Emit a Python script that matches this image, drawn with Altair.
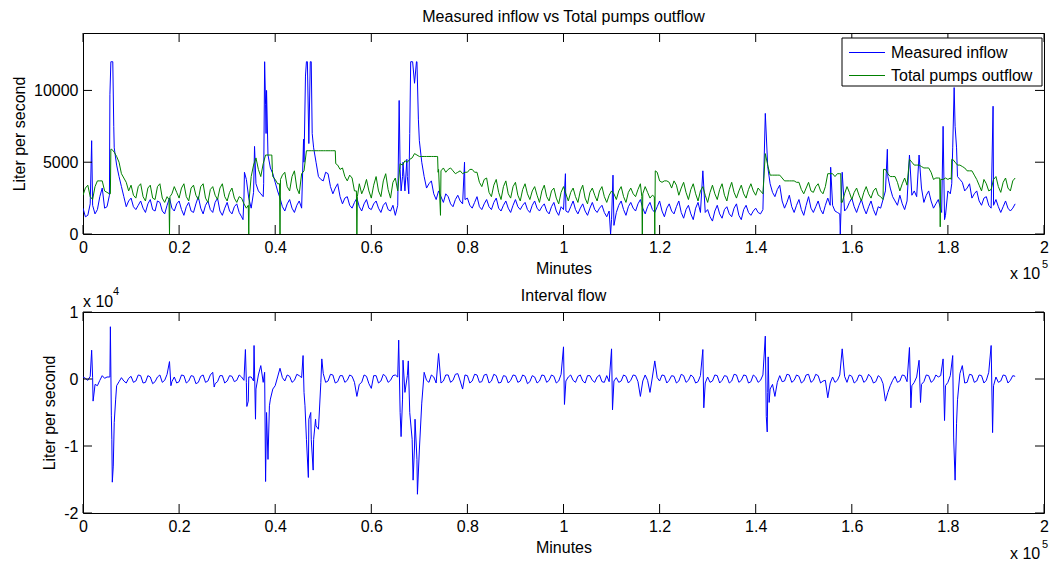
import altair as alt
import pandas as pd

FONT = "Liberation Sans"
STEP = 1000  # sampling step of the base series, minutes (mid samples sit half a step later)

# ---------------- data ----------------
inflow = [
    1800, 1300, 2000, 1700, 3200, 1900, 12000, 4800, 3300, 1900,
    2500, 1700, 2300, 1500, 2400, 1600, 2200, 1400, 2500, 1600,
    2300, 1300, 2200, 1500, 2600, 1400, 2300, 1500, 2500, 1300,
    2200, 1400, 2100, 1200, 3800, 1800, 3500, 2800, 9000, 4600,
    3600, 2500, 1600, 2400, 1500, 2300, 5000, 6300, 6000, 4000,
    3700, 4200, 2800, 3500, 2100, 2600, 1800, 2500, 1600, 2400,
    1700, 2300, 1500, 2200, 1600, 1300, 4500, 3000, 7000, 10500,
    6500, 4000, 3500, 2800, 3000, 2200, 2600, 1900, 2700, 2100,
    2500, 1800, 2600, 1700, 2400, 1700, 2500, 1600, 2300, 1500,
    2400, 1700, 2200, 1500, 2300, 1600, 2100, 1400, 2200, 1300,
    1700, 1500, 2300, 1400, 2100, 1300, 2200, 1500, 2000, 1200,
    1000, 1500, 2300, 1300, 2200, 1600, 2400, 1400, 2200, 1500,
    2300, 1200, 2100, 1400, 2300, 1100, 2000, 1000, 2200, 4400,
    1700, 900, 2000, 1100, 1900, 1200, 2100, 1000, 2000, 1300,
    1800, 1400, 8400, 3500, 2600, 3400, 1800, 2700, 1500, 2400,
    1300, 2600, 1500, 2300, 1400, 2500, 2000, 1500, 4300, 1800,
    2500, 1500, 2400, 1400, 2300, 1300, 1800, 3000, 3200, 2300,
    2700, 1700, 5500, 3000, 5500, 2200, 3000, 1800, 2400, 7500,
    3000, 6000, 4000, 3600, 3200, 2500, 3000, 2000, 2600, 1800,
    2400, 1500, 2300, 1600, 2100,
]
inflow_mid = [
    1200, 2100, 1400, 2600, 1800, 2700, 6000, 4000, 2600, 2300,
    1900, 2000, 1800, 2100, 1700, 2300, 1600, 2000, 1800, 2100,
    1700, 1900, 1600, 2100, 1800, 2000, 1700, 2200, 1600, 1800,
    1600, 1900, 1500, 2500, 2500, 2900, 3000, 2600, 5500, 4200,
    3000, 1900, 2100, 1800, 2000, 1800, 12000, 12000, 5000, 3800,
    4300, 3300, 3200, 2600, 2500, 2000, 2200, 1900, 2100, 1800,
    2100, 1800, 2000, 1700, 2000, 2000, 4000, 4000, 12000, 12000,
    5000, 3200, 3700, 2400, 2600, 2800, 2100, 2400, 2300, 2400,
    2000, 2200, 1900, 2100, 1900, 2200, 1800, 2000, 1800, 2000,
    1900, 2000, 1700, 2000, 1800, 1900, 1600, 1900, 1600, 1900,
    1600, 1900, 1700, 1800, 1600, 1800, 1700, 1800, 1500, 1600,
    600, 2000, 1700, 1900, 1800, 2100, 1800, 1900, 1700, 1900,
    1600, 1800, 1600, 1900, 1500, 1700, 1400, 1800, 1500, 1500,
    1200, 1600, 1400, 1700, 1400, 1800, 1300, 1700, 1500, 1600,
    1500, 1700, 4700, 2900, 3100, 2300, 2200, 1900, 2000, 1700,
    2000, 1800, 1900, 1700, 2000, 2000, 1600, 1400, 1600, 2200,
    1900, 2000, 1800, 1900, 1700, 1900, 2400, 4000, 2600, 2000,
    2100, 2300, 2700, 2600, 3200, 2700, 2300, 2100, 1700, 1300,
    2800, 7500, 3800, 3000, 3500, 2800, 2300, 2500, 2000, 2000,
    1900, 1900, 1800, 1800,
]
inflow_peak_minutes = [
    1800, 5600, 5800, 6200, 6400, 33300, 33600, 35700, 37600, 37800, 38100, 38200,
    45500, 45900, 46300, 46500, 46700, 47300, 47500, 47700,
    65500, 65800, 66200, 66600, 67400, 67800, 68200, 68600, 69400, 69800,
    79400, 100400, 109800, 110300, 155600, 157600, 167400,
    178700, 179300, 180800, 181300, 181800, 189400,
]
inflow_peak_values = [
    6500, 9700, 12000, 12000, 7500, 1000, 4300, 6100, 3500, 12000, 7000, 10000,
    1800, 6600, 11000, 12000, 12000, 12000, 12000, 7000,
    2000, 9300, 3000, 5000, 5200, 2800, 12000, 12000, 12000, 8000,
    5000, 4200, 0, 4100, 4650, 0, 5900,
    1500, 1000, 3500, 10200, 6000, 8900,
]

outflow = [
    2700, 3400, 2400, 3700, 3700, 2900, 5900, 5400, 4200, 3600,
    3400, 2500, 3500, 2300, 3400, 2400, 3500, 2200, 0, 3300,
    2500, 3500, 2300, 3400, 2400, 3500, 2200, 3300, 2400, 3500,
    2300, 3200, 2200, 2500, 1800, 4000, 5300, 4000, 5500, 5500,
    3800, 0, 4300, 3000, 4400, 2800, 4400, 5800, 5800, 5800,
    5800, 5800, 5800, 4800, 4600, 3700, 3900, 0, 2800, 3800,
    2500, 4000, 2600, 4200, 2500, 3900, 4900, 5100, 5200, 5600,
    5400, 5400, 5400, 5400, 4500, 4600, 4500, 4400, 4300, 4200,
    4300, 4500, 4300, 3300, 3900, 2600, 3800, 2400, 3700, 2500,
    3600, 2300, 3500, 2400, 3300, 2200, 3400, 2300, 3200, 2100,
    3300, 2300, 3200, 2200, 3400, 2100, 3200, 2300, 3300, 2200,
    3000, 2400, 3300, 2200, 3200, 2600, 3500, 3300, 2500, 0,
    3700, 3700, 3600, 3700, 2700, 3600, 2400, 3500, 2300, 3300,
    2200, 3400, 2400, 3500, 2300, 3600, 2500, 3400, 2500, 3500,
    2700, 3000, 5600, 4100, 4100, 4100, 3700, 3700, 3700, 3600,
    2800, 3600, 2900, 3500, 2800, 4200, 4200, 4200, 2200, 3300,
    2400, 3200, 2300, 3300, 2500, 3200, 2600, 4500, 4000, 4000,
    3000, 3900, 5200, 4800, 4800, 4600, 4600, 3800, 3900, 3800,
    3800, 5200, 4800, 4700, 4400, 4400, 3800, 3000, 3500, 3100,
    4000, 2900, 3900, 3000, 3900,
]
outflow_mid = [
    3200, 2600, 3300, 3700, 3000, 2800, 5700, 5000, 3900, 3000,
    2700, 3300, 2600, 3200, 2500, 3300, 2500, 2600, 2800, 2900,
    3200, 2600, 3200, 2700, 3300, 2500, 3100, 2700, 3200, 2600,
    2900, 2500, 2600, 2100, 0, 4800, 4500, 4900, 5500, 4000,
    3500, 4100, 3300, 4000, 3200, 4200, 5800, 5800, 5800, 5800,
    5800, 5800, 5800, 4500, 4000, 4100, 3000, 3500, 3200, 3000,
    3400, 3000, 3700, 3100, 3600, 3000, 4800, 5000, 5300, 5500,
    5400, 5400, 5400, 5400, 4400, 4300, 4600, 4200, 4400, 4300,
    4500, 4300, 3600, 3800, 2900, 3400, 2900, 3300, 2800, 3300,
    2700, 3100, 2800, 3000, 2700, 3000, 2600, 3000, 2500, 2900,
    2800, 2900, 2600, 3000, 2500, 2900, 2700, 3000, 2600, 2700,
    2800, 3000, 2600, 2900, 2800, 3100, 2800, 2900, 2700, 4300,
    3600, 3700, 3200, 3400, 3200, 2900, 3100, 2800, 3000, 2700,
    2900, 2800, 3100, 2700, 3100, 2900, 3000, 2800, 3100, 3000,
    3200, 2800, 4800, 4100, 4100, 3900, 3700, 3700, 3600, 3100,
    3200, 3000, 3300, 3000, 3300, 4200, 4000, 4200, 2800, 2900,
    2900, 2700, 2900, 2800, 3000, 2700, 2400, 4200, 4000, 3600,
    3500, 3400, 5000, 4800, 4700, 4600, 4300, 3900, 3800, 3900,
    3900, 5000, 4800, 4600, 4400, 4100, 3400, 3800, 3000, 3800,
    3300, 3600, 3200, 3700,
]
outflow_step_minutes = [
    5700, 5800, 17900, 18100, 34400, 34500, 34600, 39300, 39400, 40900, 41100,
    46500, 52500, 52600, 56900, 57100, 73800, 73900, 74400, 74500,
    116300, 116400, 116500, 118900, 119100, 157700, 157800, 166500, 166600,
    178300, 178400, 178500, 180700, 180800,
]
outflow_step_values = [
    2800, 5900, 2400, 2600, 2000, 0, 2500, 5500, 4500, 3500, 3800,
    5800, 5800, 4900, 3000, 2600, 5400, 4300, 1300, 4400,
    2600, 0, 2800, 2600, 4400, 4200, 2200, 2400, 4500,
    3900, 500, 3800, 3800, 5200,
]

interval = [
    300, -200, 200, -1000, 500, 300, -9000, -1000, 200, -600,
    400, -300, 500, -500, 300, -400, 600, -200, 2600, 300,
    -400, 500, -300, 400, -500, 600, -300, 1000, -400, 500,
    -300, 400, -200, 300, -500, 300, -1500, 2000, -15300, -3000,
    -1000, 1600, -300, 400, -200, 500, -2000, -6000, -9000, -7500,
    800, -300, 600, -400, 500, -200, 400, -2600, -500, 400,
    -1400, 500, -300, 400, -200, 600, -5000, -2000, -5000, -10000,
    -10600, 1000, -500, 300, 3800, -300, 600, -200, 800, -1500,
    500, -300, 600, -400, 700, -300, 500, -500, 400, -200,
    500, -300, 400, -400, 300, -300, 500, -200, 400, -300,
    4800, 300, -200, 400, -300, 500, -200, 300, -400, 500,
    4500, 200, -300, 400, -200, 500, -2600, 600, -2000, 2700,
    -300, 500, -200, 400, -300, 500, -200, 300, -400, 4400,
    300, -300, 500, -200, 400, -300, 600, -200, 500, -400,
    300, -200, 6400, -1500, -2600, 500, -300, 600, -200, 400,
    -300, 700, -200, 500, -300, -2800, 300, -200, 4500, -500,
    400, -300, 500, -200, 300, -400, 200, -3300, -1000, 400,
    -300, 500, 4700, -500, 2800, -400, 500, -200, 300, 3000,
    -500, 3500, -3100, 2000, -500, 600, -300, 500, -200, 5000,
    300, -300, 500, -200, 400,
]
interval_mid = [
    100, 400, -800, -200, 100, 300, -6500, -400, -300, 100,
    -500, 600, -600, 500, -700, 300, -500, 700, -400, -600,
    600, -600, 500, -700, 400, -500, 600, -700, 500, -600,
    500, -400, 600, -200, 300, -300, 600, -500, -12000, -1500,
    300, 200, 600, -500, 700, 200, -9000, -9000, -7000, -500,
    -500, 700, -600, 500, -500, 600, -500, -800, 600, -700,
    500, -600, 700, -500, 500, 300, -3000, 500, -9000, -12000,
    -3600, -200, 600, -600, -600, 600, -500, 700, -300, 600,
    -600, 700, -500, 600, -600, 700, -600, 500, -600, 600,
    -500, 600, -700, 500, -600, 600, -500, 600, -600, 700,
    -300, 600, -500, 600, -600, 500, -500, 600, -500, -400,
    -300, -500, 600, -600, 600, -400, -300, -200, 300, 200,
    600, -600, 500, -600, 700, -500, 600, -600, 500, -600,
    -500, 600, -600, 500, -600, 700, -500, 600, -600, 600,
    -500, 600, -2000, -800, -500, -400, 700, -500, 600, -600,
    600, -500, 700, -600, -200, -600, -500, 600, 400, 600,
    -600, 600, -500, 700, -600, 500, -700, -2000, -200, -500,
    600, -400, -1000, 300, -800, 600, -500, 600, 500, -1000,
    500, -15100, 800, -600, 700, -500, 600, -600, 1000, -1000,
    -500, 600, -600, 500,
]
interval_peak_minutes = [
    1800, 2100, 2400, 5600, 5700, 5900, 6100, 6300, 6500, 6800, 18300, 27300,
    33800, 34100, 34400, 35600, 35900, 37800, 38200, 38500, 38800,
    45800, 46200, 46900, 47400, 47900, 48400, 49700,
    65700, 66200, 66600, 67700, 68700, 69100, 69600, 70500,
    100200, 110200, 129200, 142200, 142400, 142600, 142800,
    172300, 174300, 179300, 181200, 181500, 181800, 189300,
]
interval_peak_values = [
    4300, -3300, -1500, 300, 7800, -5500, -15400, -13000, -6500, -3000, -1000, -1200,
    4400, -4100, -3300, 5000, -6000, 1000, -5000, -12000, -4000,
    3500, -4000, -14700, -5000, -13600, -6000, 3000,
    5800, -8600, 2800, 2700, -15100, -6000, -17200, -3600,
    -3800, -4600, -4300, -5600, -7900, 3300, -3500,
    -4300, -3500, -6200, -8800, -15100, -6600, -8000,
]

series_names = ["Measured inflow", "Total pumps outflow"]
series_colors = ["#0000ff", "#008000"]
panel_titles = ["Measured inflow vs Total pumps outflow", "Interval flow"]
x_ticks = [0, 20000, 40000, 60000, 80000, 100000, 120000, 140000, 160000, 180000, 200000]
top_y_ticks = [0, 5000, 10000]
bottom_y_ticks = [-20000, -10000, 0, 10000]
x_exponent = ["x 10", "5"]
y_exponent = ["x 10", "4"]

# ---------------- layout ----------------
W, H = 961, 201
TICK = 9


def frame(base, mid, extra_x, extra_y):
    xs = ([i * STEP for i in range(len(base))]
          + [i * STEP + STEP // 2 for i in range(len(mid))]
          + list(extra_x))
    ys = list(base) + list(mid) + list(extra_y)
    return pd.DataFrame({"minutes": xs, "flow": ys}).sort_values("minutes", kind="stable")


x_scale = alt.Scale(domain=[0, 200000], nice=False, zero=False)
x_axis = alt.Axis(values=x_ticks, labelExpr="'' + datum.value / 100000", title="Minutes")


def panel(lines, y_domain, y_ticks, y_label_expr, title, exp_top_left, exp_dy):
    y_scale = alt.Scale(domain=y_domain, nice=False, zero=False)
    y_axis = alt.Axis(values=y_ticks, labelExpr=y_label_expr, title="Liter per second")
    xenc = alt.X("minutes:Q", scale=x_scale, axis=x_axis)
    yenc = alt.Y("flow:Q", scale=y_scale, axis=y_axis)
    layers = []
    for df, color in lines:
        layers.append(
            alt.Chart(df).mark_line(color=color, strokeWidth=1, clip=True).encode(x=xenc, y=yenc)
        )
    xt = pd.DataFrame({"minutes": x_ticks})
    yt = pd.DataFrame({"flow": y_ticks})
    layers += [
        alt.Chart(xt).mark_rule(color="black", strokeWidth=1).encode(
            x=xenc, y=alt.value(H), y2=alt.value(H - TICK)),
        alt.Chart(xt).mark_rule(color="black", strokeWidth=1).encode(
            x=xenc, y=alt.value(0), y2=alt.value(TICK)),
        alt.Chart(yt).mark_rule(color="black", strokeWidth=1).encode(
            y=yenc, x=alt.value(0), x2=alt.value(TICK)),
        alt.Chart(yt).mark_rule(color="black", strokeWidth=1).encode(
            y=yenc, x=alt.value(W), x2=alt.value(W - TICK)),
    ]
    # panel title
    layers.append(
        alt.Chart(pd.DataFrame({"t": [title]})).mark_text(
            font=FONT, fontSize=16, color="black", align="center", baseline="alphabetic"
        ).encode(text="t:N", x=alt.value(W / 2), y=alt.value(-11))
    )
    # x exponent (bottom right)
    layers.append(
        alt.Chart(pd.DataFrame({"t": [x_exponent[0]]})).mark_text(
            font=FONT, fontSize=16, color="black", align="left", baseline="alphabetic"
        ).encode(text="t:N", x=alt.value(W - 34), y=alt.value(H + exp_dy))
    )
    layers.append(
        alt.Chart(pd.DataFrame({"t": [x_exponent[1]]})).mark_text(
            font=FONT, fontSize=11, color="black", align="left", baseline="alphabetic"
        ).encode(text="t:N", x=alt.value(W - 2), y=alt.value(H + exp_dy - 11))
    )
    if exp_top_left:
        layers.append(
            alt.Chart(pd.DataFrame({"t": [y_exponent[0]]})).mark_text(
                font=FONT, fontSize=16, color="black", align="left", baseline="alphabetic"
            ).encode(text="t:N", x=alt.value(0), y=alt.value(-5))
        )
        layers.append(
            alt.Chart(pd.DataFrame({"t": [y_exponent[1]]})).mark_text(
                font=FONT, fontSize=11, color="black", align="left", baseline="alphabetic"
            ).encode(text="t:N", x=alt.value(30), y=alt.value(-17))
        )
    return layers


top_layers = panel(
    [(frame(inflow, inflow_mid, inflow_peak_minutes, inflow_peak_values), series_colors[0]),
     (frame(outflow, outflow_mid, outflow_step_minutes, outflow_step_values), series_colors[1])],
    [0, 14000], top_y_ticks, "'' + datum.value", panel_titles[0], False, 45,
)

# legend box (top right, inside the plot)
one = pd.DataFrame({"k": [0]})
LX0, LX1, LY0, LY1 = 759, 959, 5, 53
top_layers.append(
    alt.Chart(one).mark_rect(fill="white", stroke="black", strokeWidth=1).encode(
        x=alt.value(LX0), x2=alt.value(LX1), y=alt.value(LY0), y2=alt.value(LY1))
)
for k, (name, color) in enumerate(zip(series_names, series_colors)):
    ry = 19.5 + 23 * k
    top_layers.append(
        alt.Chart(one).mark_rule(color=color, strokeWidth=1).encode(
            x=alt.value(766), x2=alt.value(802), y=alt.value(ry))
    )
    top_layers.append(
        alt.Chart(pd.DataFrame({"t": [name]})).mark_text(
            font=FONT, fontSize=16, color="black", align="left", baseline="middle"
        ).encode(text="t:N", x=alt.value(808), y=alt.value(ry))
    )

top = alt.layer(*top_layers).properties(width=W, height=H)

bottom_layers = panel(
    [(frame(interval, interval_mid, interval_peak_minutes, interval_peak_values), series_colors[0])],
    [-20000, 10000], bottom_y_ticks, "'' + datum.value / 10000", panel_titles[1], True, 46,
)
bottom = alt.layer(*bottom_layers).properties(width=W, height=H)

chart = (
    alt.vconcat(top, bottom, spacing=2)
    .properties(padding={"left": 11, "top": 8, "right": 5, "bottom": 2}, background="white")
    .configure_view(stroke="black", strokeWidth=1)
    .configure_axis(
        labelFont=FONT, labelFontSize=16, labelColor="black",
        titleFont=FONT, titleFontSize=16, titleFontWeight="normal", titleColor="black",
        domain=False, ticks=False, grid=False, labelFlush=False,
    )
    .configure_axisX(labelPadding=5, titlePadding=5)
    .configure_axisY(labelPadding=5, titlePadding=6)
)

chart.save("out.html", embed_options={"renderer": "svg", "actions": False})
